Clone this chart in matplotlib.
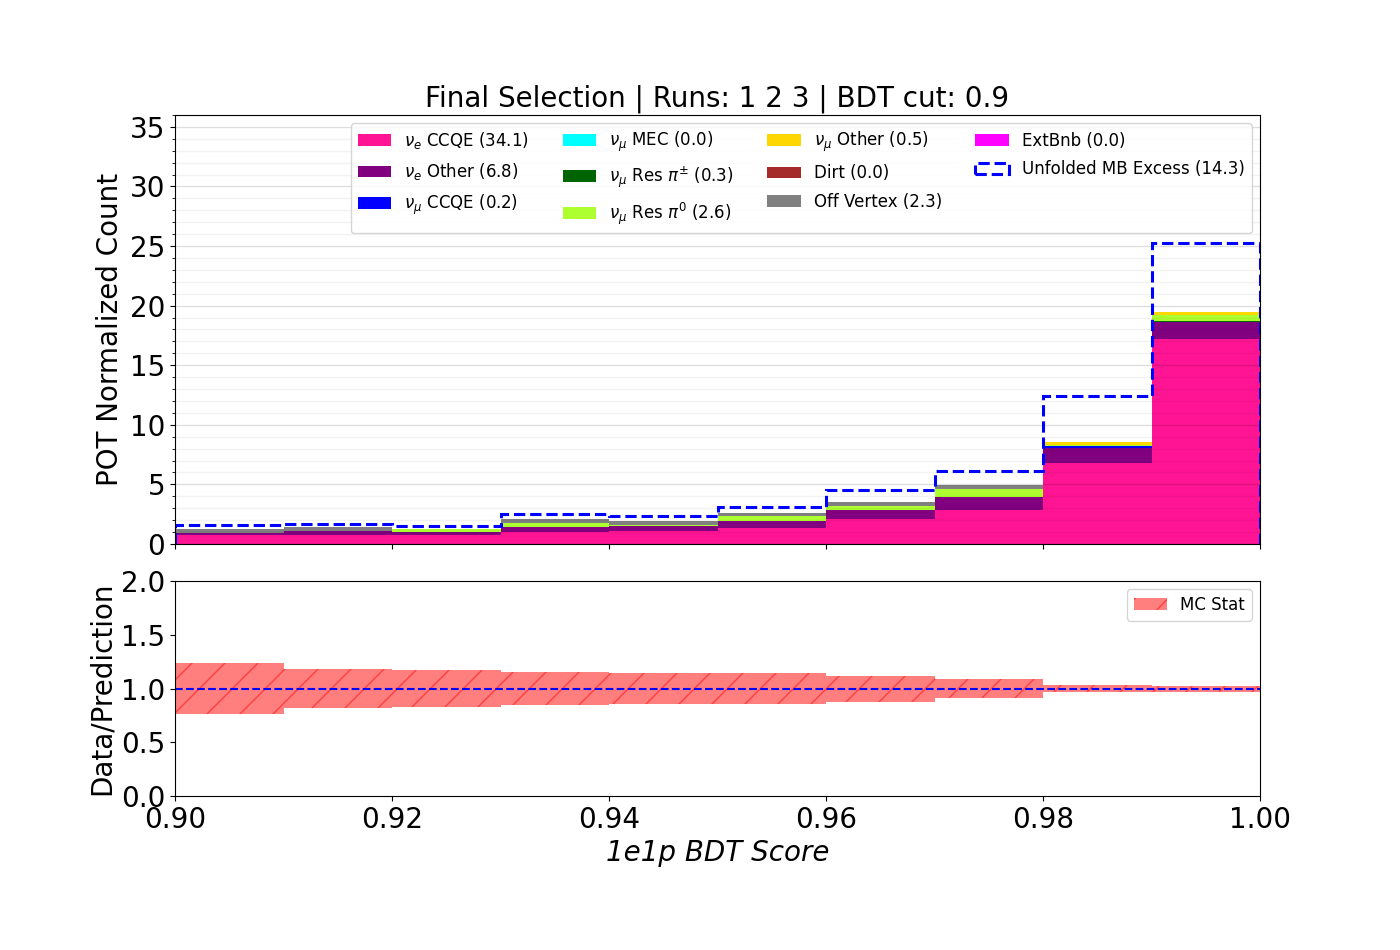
import numpy as np
import matplotlib
matplotlib.use("Agg")
import matplotlib.pyplot as plt
from matplotlib.ticker import AutoMinorLocator, MultipleLocator
from matplotlib.collections import LineCollection
from matplotlib.patches import Patch

# ---------------- data ----------------
bin_edges = [0.90, 0.91, 0.92, 0.93, 0.94, 0.95, 0.96, 0.97, 0.98, 0.99, 1.00]

nue_ccqe      = [0.75, 0.75, 0.75, 1.03, 1.10, 1.37, 2.09, 2.85, 6.81, 17.17]
nue_other     = [0.20, 0.30, 0.28, 0.39, 0.42, 0.56, 0.75, 1.06, 1.25, 1.45]
numu_ccqe     = [0.00, 0.00, 0.00, 0.00, 0.00, 0.00, 0.02, 0.02, 0.15, 0.01]
numu_mec      = [0.00, 0.00, 0.00, 0.00, 0.00, 0.00, 0.00, 0.00, 0.00, 0.00]
numu_res_pipm = [0.00, 0.00, 0.00, 0.02, 0.02, 0.03, 0.03, 0.05, 0.05, 0.10]
numu_res_pi0  = [0.00, 0.00, 0.25, 0.31, 0.08, 0.36, 0.28, 0.60, 0.08, 0.46]
numu_other    = [0.00, 0.00, 0.00, 0.00, 0.00, 0.05, 0.00, 0.00, 0.20, 0.28]
dirt          = [0.00, 0.00, 0.00, 0.00, 0.00, 0.00, 0.00, 0.00, 0.00, 0.00]
off_vertex    = [0.30, 0.35, 0.00, 0.36, 0.30, 0.22, 0.31, 0.34, 0.00, 0.00]
ext_bnb       = [0.00, 0.00, 0.00, 0.00, 0.00, 0.00, 0.00, 0.00, 0.00, 0.00]
mb_excess     = [0.36, 0.26, 0.20, 0.42, 0.40, 0.50, 1.01, 1.23, 3.86, 5.81]

mc_stat_err   = [0.233, 0.183, 0.174, 0.158, 0.143, 0.143, 0.121, 0.090, 0.037, 0.028]

labels = [r"$\nu_e$ CCQE (34.1)", r"$\nu_e$ Other (6.8)", r"$\nu_\mu$ CCQE (0.2)",
          r"$\nu_\mu$ MEC (0.0)", r"$\nu_\mu$ Res $\pi^{\pm}$ (0.3)", r"$\nu_\mu$ Res $\pi^0$ (2.6)",
          r"$\nu_\mu$ Other (0.5)", "Dirt (0.0)", "Off Vertex (2.3)", "ExtBnb (0.0)"]
excess_label = "Unfolded MB Excess (14.3)"
colors = ["#ff1493", "#800080", "#0000ff", "#00ffff", "#006400", "#adff2f",
          "#ffd700", "#a52a2a", "#808080", "#ff00ff"]

title = "Final Selection | Runs: 1 2 3 | BDT cut: 0.9"
xlabel = "1e1p BDT Score"

# ---------------- plot ----------------
edges = np.array(bin_edges)
centers = 0.5 * (edges[:-1] + edges[1:])
comps = [nue_ccqe, nue_other, numu_ccqe, numu_mec, numu_res_pipm, numu_res_pi0,
         numu_other, dirt, off_vertex, ext_bnb]
comps = [np.array(c) for c in comps]
total = np.sum(comps, axis=0)

fig = plt.figure(figsize=(14, 9.5), dpi=100)
ax1 = fig.add_axes([0.125, 0.4274, 0.775, 0.4516])
ax2 = fig.add_axes([0.125, 0.1621, 0.775, 0.2263], sharex=ax1)

n, b, patches = ax1.hist([centers] * len(comps), bins=edges, weights=comps,
                         stacked=True, histtype="stepfilled", color=colors,
                         label=labels)
_, _, step = ax1.hist(centers, bins=edges, weights=total + np.array(mb_excess),
                      histtype="step", color="blue", ls="--", lw=2.2,
                      label=excess_label)

handles = [p[0] for p in patches] + [step[0]]
ax1.legend(handles=handles, labels=labels + [excess_label], loc="upper right",
           ncol=4, fontsize=12, labelspacing=0.62)

ax1.set_xlim(0.90, 1.00)
ax1.set_ylim(0, 36)
ax1.yaxis.set_major_locator(MultipleLocator(5))
ax1.yaxis.set_minor_locator(AutoMinorLocator(5))
ax1.grid(axis="y", which="major", color="k", alpha=0.13, lw=1)
ax1.grid(axis="y", which="minor", color="k", alpha=0.05, lw=1)
ax1.tick_params(labelsize=20)
plt.setp(ax1.get_xticklabels(), visible=False)
ax1.set_ylabel("POT Normalized Count", fontsize=20)
ax1.set_title(title, fontsize=20)

# ratio panel
err = np.array(mc_stat_err)
err_ext = np.append(err, err[-1])
band = ax2.fill_between(edges, 1 - err_ext, 1 + err_ext, step="post",
                        facecolor="red", alpha=0.5, lw=0)
# sparse '/' hatch drawn as clipped lines
fig_w, fig_h = fig.get_size_inches() * fig.dpi
pos = ax2.get_position()
W, H = pos.width * fig_w, pos.height * fig_h
segs = []
for x0 in np.arange(-H, W + 33, 33.0):
    segs.append([(x0 / W, 0.0), ((x0 + H) / W, 1.0)])
lc = LineCollection(segs, colors=[(1, 0, 0, 0.5)], linewidths=1.0,
                    transform=ax2.transAxes)
ax2.add_collection(lc)
lc.set_clip_path(band.get_paths()[0], ax2.transData)

ax2.axhline(1.0, color="blue", ls="--", lw=1.5)
proxy = Patch(facecolor=(1, 0, 0, 0.5), edgecolor=(1, 0, 0, 0.5), hatch="/",
              lw=0, label="MC Stat")
ax2.legend(handles=[proxy], loc="upper right", fontsize=12)
ax2.set_ylim(0, 2)
ax2.set_xlim(0.90, 1.00)
ax2.set_xticks([0.90, 0.92, 0.94, 0.96, 0.98, 1.00])
ax2.set_yticks([0.0, 0.5, 1.0, 1.5, 2.0])
ax2.tick_params(labelsize=20)
ax2.set_ylabel("Data/Prediction", fontsize=20)
ax2.set_xlabel(xlabel, fontsize=20, style="italic")

fig.savefig("out.png", dpi=100)
